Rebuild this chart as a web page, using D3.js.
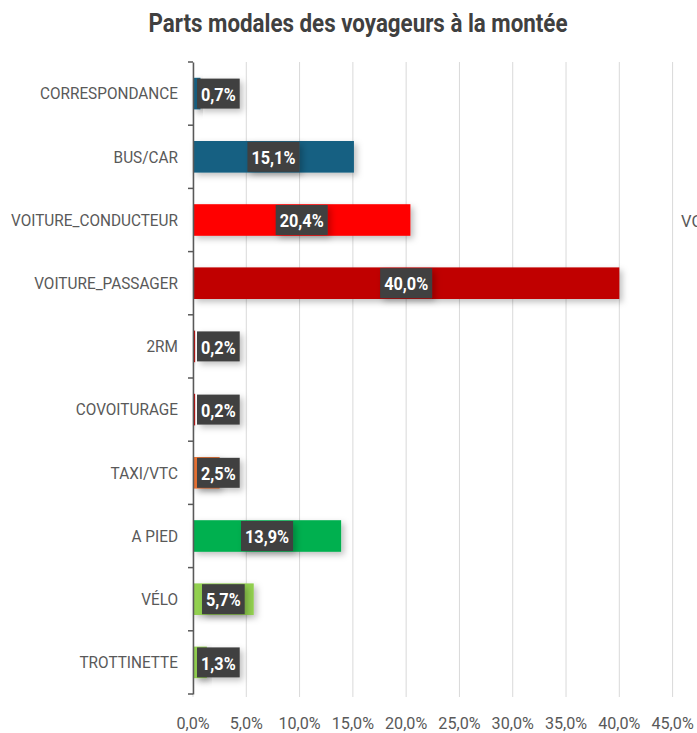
<!DOCTYPE html>
<html>
<head>
<meta charset="utf-8">
<script src="https://cdn.jsdelivr.net/npm/d3@7"></script>
<style>
  body { margin: 0; background: #fff; overflow: hidden; }
  svg { display: block; }
</style>
</head>
<body>
<svg id="chart" width="697" height="733"></svg>
<script>
const categories = ["CORRESPONDANCE", "BUS/CAR", "VOITURE_CONDUCTEUR", "VOITURE_PASSAGER", "2RM",
  "COVOITURAGE", "TAXI/VTC", "A PIED", "VÉLO", "TROTTINETTE"];
const shares = [0.7, 15.1, 20.4, 40.0, 0.2, 0.2, 2.5, 13.9, 5.7, 1.3];
const barColors = ["#156082", "#156082", "#FF0000", "#C00000", "#C00000",
  "#C00000", "#E97132", "#00B050", "#92D050", "#92D050"];
const xTicks = [0, 5, 10, 15, 20, 25, 30, 35, 40, 45];

const FONT = "'Roboto', 'Liberation Sans', sans-serif";
const fmt = (v) => v.toFixed(1).replace(".", ",") + "%";

// squeeze a text horizontally to mimic the narrow font of the original
const condense = (sel, k) => sel.each(function () {
  const w = this.getComputedTextLength();
  d3.select(this).attr("textLength", w * k).attr("lengthAdjust", "spacingAndGlyphs");
});

const svg = d3.select("#chart");

const defs = svg.append("defs");
const shadow = defs.append("filter").attr("id", "shadow")
  .attr("x", "-20%").attr("y", "-40%").attr("width", "150%").attr("height", "200%");
shadow.append("feDropShadow").attr("dx", 3).attr("dy", 3).attr("stdDeviation", 3)
  .attr("flood-color", "#000").attr("flood-opacity", 0.25);

const x = d3.scaleLinear().domain([0, 45]).range([193, 672.6]);
const y = d3.scaleBand().domain(categories).range([62, 694])
  .paddingInner(0.5).paddingOuter(0.25);

// title
svg.append("text")
  .attr("x", 358).attr("y", 32)
  .attr("text-anchor", "middle")
  .style("font-family", FONT).style("font-weight", "bold")
  .style("font-size", "26px").style("fill", "#404040")
  .text("Parts modales des voyageurs à la montée")
  .attr("textLength", 419).attr("lengthAdjust", "spacingAndGlyphs");

// gridlines
svg.append("g").selectAll("line").data(xTicks).enter().append("line")
  .attr("x1", (d) => x(d)).attr("x2", (d) => x(d))
  .attr("y1", 62).attr("y2", 697)
  .style("stroke", "#d9d9d9").style("stroke-width", 1);

// x tick labels
svg.append("g").selectAll("text").data(xTicks).enter().append("text")
  .attr("x", (d) => x(d)).attr("y", 729)
  .attr("text-anchor", "middle")
  .style("font-family", FONT).style("font-size", "17px").style("fill", "#595959")
  .text((d) => fmt(d))
  .call(condense, 0.95);

// bars
const rows = categories.map((c, i) => ({ cat: c, value: shares[i], color: barColors[i] }));
svg.append("g").selectAll("rect").data(rows).enter().append("rect")
  .attr("x", x(0))
  .attr("y", (d) => y(d.cat))
  .attr("width", (d) => Math.max(x(d.value) - x(0), 1.5))
  .attr("height", y.bandwidth())
  .style("fill", (d) => d.color)
  .attr("filter", "url(#shadow)");

// y axis
const yAxis = d3.axisLeft(y).tickSize(0).tickFormat("");
svg.append("g").attr("transform", `translate(${x(0)},0)`).call(yAxis)
  .call((g) => g.select(".domain").style("stroke", "#595959").style("stroke-width", 1.5));
const boundaries = d3.range(categories.length + 1).map((i) => y.step() * i + 62);
svg.append("g").selectAll("line").data(boundaries).enter().append("line")
  .attr("x1", x(0) - 5).attr("x2", x(0))
  .attr("y1", (d) => d).attr("y2", (d) => d)
  .style("stroke", "#595959").style("stroke-width", 1.5);

// category labels
svg.append("g").selectAll("text").data(categories).enter().append("text")
  .attr("x", 178).attr("y", (d) => y(d) + y.bandwidth() / 2)
  .attr("dy", "0.35em").attr("text-anchor", "end")
  .style("font-family", FONT).style("font-size", "16.5px").style("fill", "#595959")
  .text((d) => d)
  .call(condense, 0.93);

// data labels
const labels = svg.append("g").selectAll("g").data(rows).enter().append("g");
labels.each(function (d) {
  const grp = d3.select(this);
  const t = grp.append("text")
    .attr("text-anchor", "middle").attr("dy", "0.35em")
    .style("font-family", FONT).style("font-weight", "bold")
    .style("font-size", "17.5px").style("fill", "#ffffff")
    .text(fmt(d.value));
  const tw = t.node().getComputedTextLength() * 0.93;
  t.attr("textLength", tw).attr("lengthAdjust", "spacingAndGlyphs");
  const w = tw + 8;
  const h = 30;
  let cx = (x(0) + x(d.value)) / 2;
  cx = Math.max(cx, x(0) + 4 + w / 2);
  const cy = y(d.cat) + y.bandwidth() / 2;
  t.attr("x", cx).attr("y", cy + 1);
  grp.insert("rect", "text")
    .attr("x", cx - w / 2).attr("y", cy - h / 2)
    .attr("width", w).attr("height", h)
    .style("fill", "#404040")
    .attr("filter", "url(#shadow)");
});

// text cut off at the right edge, as in the original
svg.append("text")
  .attr("x", 681).attr("y", 221).attr("dy", "0.35em")
  .style("font-family", FONT).style("font-size", "16.5px").style("fill", "#595959")
  .text("VOITURE_CONDUCTEUR");
</script>
</body>
</html>
